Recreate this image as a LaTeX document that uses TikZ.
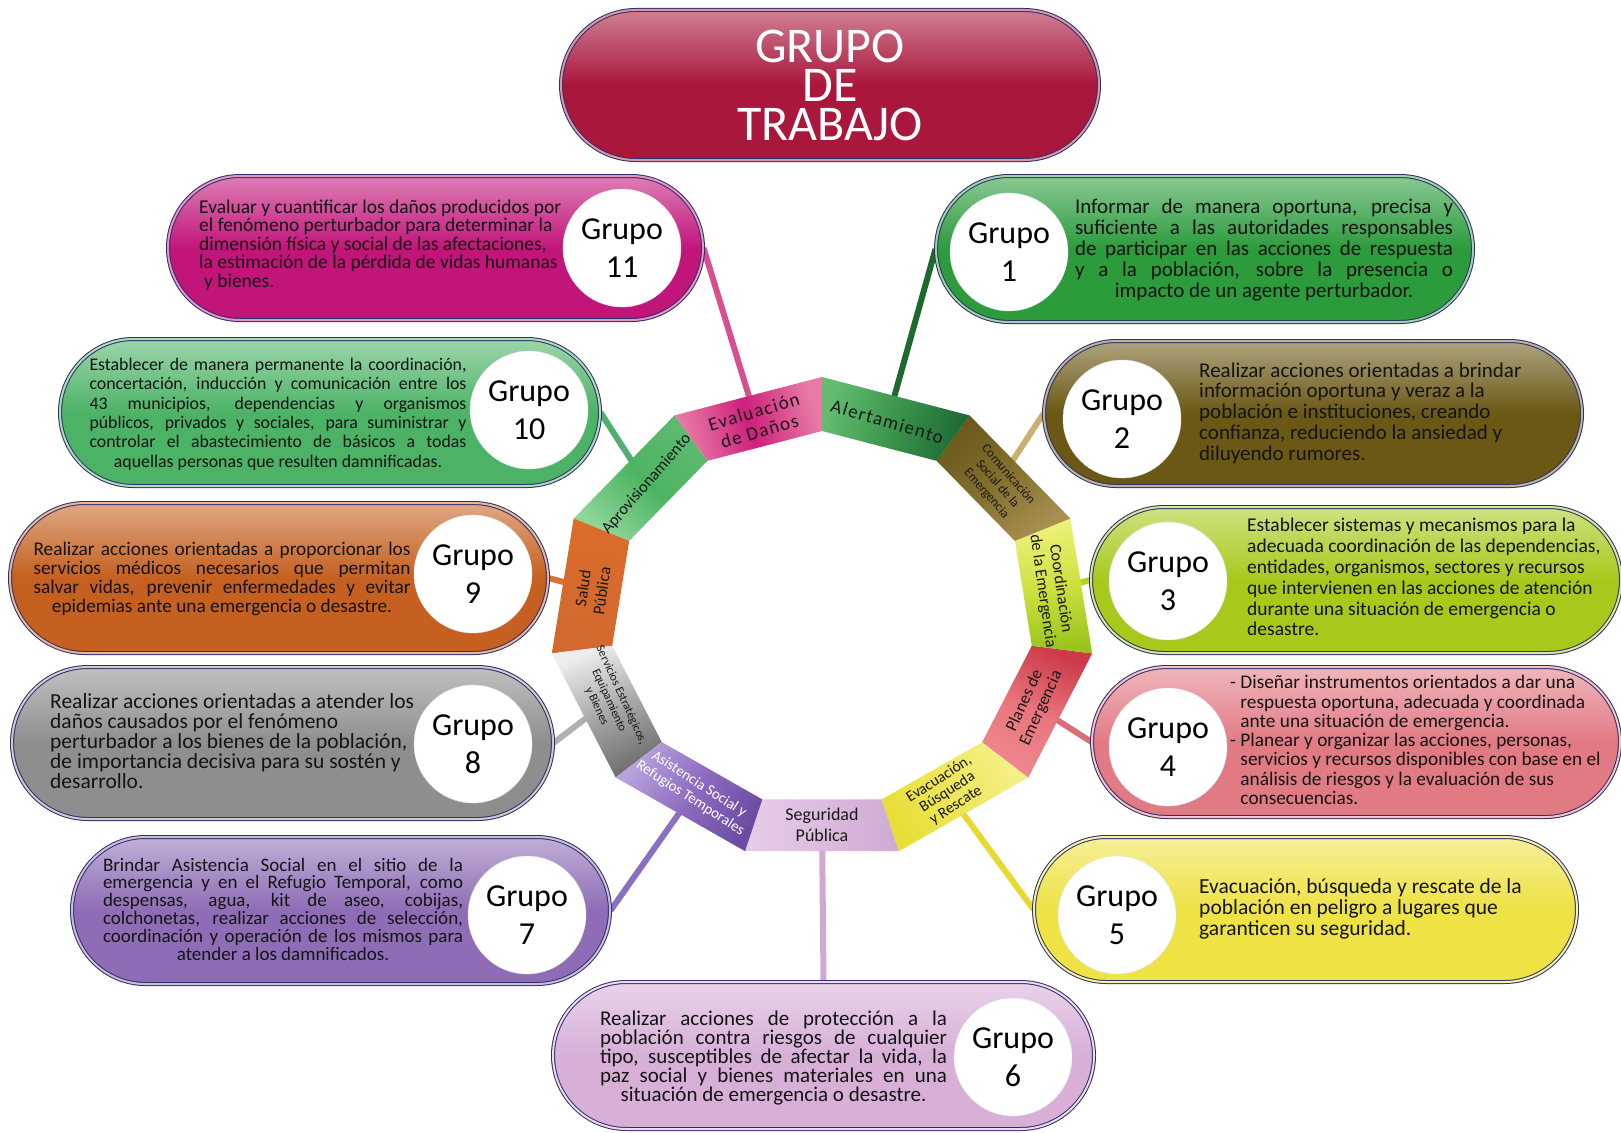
\documentclass[tikz,border=0pt]{standalone}
\usepackage{fontspec}
\setmainfont{Carlito}
\newfontfamily\spacedfont[LetterSpace=7]{Carlito}
\usetikzlibrary{shapes.misc}
\pgfdeclarelayer{back}
\pgfdeclarelayer{bg}
\pgfsetlayers{back,bg,main}
\definecolor{navyline}{HTML}{2E2F6B}
\definecolor{cTitle}{HTML}{A9173C}
\definecolor{cEleven}{HTML}{C2157A}
\definecolor{cOne}{HTML}{2B9B3C}
\definecolor{cTen}{HTML}{4CB366}
\definecolor{cTwo}{HTML}{6B5815}
\definecolor{cNine}{HTML}{C56020}
\definecolor{cThree}{HTML}{A7C91C}
\definecolor{cEight}{HTML}{8E8E8E}
\definecolor{cFour}{HTML}{E27A84}
\definecolor{cSeven}{HTML}{8E6DB6}
\definecolor{cFive}{HTML}{EEE244}
\definecolor{cSix}{HTML}{D7AFD7}
% ring colours
\definecolor{rSegA}{HTML}{E6CDE8}\definecolor{rSegM}{HTML}{DCBCDE}\definecolor{rSegB}{HTML}{CFA9D2}
\definecolor{rEvaA}{HTML}{E8DE38}\definecolor{rEvaM}{HTML}{EEE65A}\definecolor{rEvaB}{HTML}{F5F08A}
\definecolor{rPlaA}{HTML}{F0888E}\definecolor{rPlaM}{HTML}{E8747C}\definecolor{rPlaB}{HTML}{CC3A48}
\definecolor{rCooA}{HTML}{EEF27A}\definecolor{rCooM}{HTML}{CFE040}\definecolor{rCooB}{HTML}{98C41C}
\definecolor{rComA}{HTML}{6B5A1C}\definecolor{rComM}{HTML}{85702E}\definecolor{rComB}{HTML}{A89050}
\definecolor{rAleA}{HTML}{62BC6E}\definecolor{rAleM}{HTML}{3A944C}\definecolor{rAleB}{HTML}{1F6A35}
\definecolor{rDanA}{HTML}{E77BA5}\definecolor{rDanM}{HTML}{CF1F7C}\definecolor{rDanB}{HTML}{E77BA5}
\definecolor{rAprA}{HTML}{8ED598}\definecolor{rAprM}{HTML}{4DB462}\definecolor{rAprB}{HTML}{5DBA6F}
\definecolor{rSalA}{HTML}{D2692E}\definecolor{rSalM}{HTML}{D66A2C}\definecolor{rSalB}{HTML}{DB6C2A}
\definecolor{rSerA}{HTML}{EDEDED}\definecolor{rSerM}{HTML}{A8A8A8}\definecolor{rSerB}{HTML}{6E6E6E}
\definecolor{rAsiA}{HTML}{B9A3DD}\definecolor{rAsiM}{HTML}{8E6DC0}\definecolor{rAsiB}{HTML}{6B4CA3}
% connector colours
\definecolor{kEleven}{HTML}{D84E90}
\definecolor{kOne}{HTML}{1E6A2E}
\definecolor{kTwo}{HTML}{C8B070}
\definecolor{kThree}{HTML}{B8D020}
\definecolor{kFour}{HTML}{D8707A}
\definecolor{kFive}{HTML}{E8D830}
\definecolor{kSix}{HTML}{D0A8D0}
\definecolor{kSeven}{HTML}{8A70C0}
\definecolor{kEight}{HTML}{B0B0B0}
\definecolor{kNine}{HTML}{E07030}
\definecolor{kTen}{HTML}{50B070}
\newcommand\fsz[2]{\fontsize{#1}{#2}\selectfont}
\newcommand\jt{\tolerance=10000\hyphenpenalty=10000\parfillskip=0pt\relax}
\newcommand\ringpart[5]{%
  \shade[shift={(822,-619)}, left color=#2, right color=#4, middle color=#3, shading angle=#5]
    ({#1-16.3636}:273 and 242) -- ({#1+16.3636}:273 and 242) --
    ({#1+16.3636}:212 and 188) -- ({#1-16.3636}:212 and 188) -- cycle;}
\tikzset{
  pill/.style={rounded rectangle, draw=navyline, line width=1pt, double=#1!45!white,
    double distance=2pt, top color=#1!55!white, bottom color=#1, middle color=#1, inner sep=0pt},
  grp/.style={circle, fill=white, draw=black!12, minimum size=118pt, inner sep=0pt,
    align=center, font=\fsz{32}{38}},
  lefttext/.style={anchor=west, align=left, inner sep=0pt, text=black!92},
  justext/.style={align=justify, text width=#1, inner sep=0pt, text=black!92},
  seglab/.style={align=center, inner sep=0pt, text=black!90},
  conn/.style={line width=6pt}
}
\begin{document}
\begin{tikzpicture}[x=1pt,y=1pt]
\useasboundingbox (0,0) rectangle (1621,-1132);
\begin{pgfonlayer}{back}
\fill[white] (0,0) rectangle (1621,-1132);
\end{pgfonlayer}

% ---------------- ring ----------------
\ringpart{270}{rSegA}{rSegM}{rSegB}{90}
\ringpart{302.727}{rEvaA}{rEvaM}{rEvaB}{122.73}
\ringpart{335.455}{rPlaA}{rPlaM}{rPlaB}{155.45}
\ringpart{8.182}{rCooA}{rCooM}{rCooB}{8.18}
\ringpart{40.909}{rComA}{rComM}{rComB}{40.91}
\ringpart{73.636}{rAleA}{rAleM}{rAleB}{73.64}
\ringpart{106.364}{rDanA}{rDanM}{rDanB}{106.36}
\ringpart{139.091}{rAprA}{rAprM}{rAprB}{139.09}
\ringpart{171.818}{rSalA}{rSalM}{rSalB}{171.82}
\ringpart{204.545}{rSerA}{rSerM}{rSerB}{24.55}
\ringpart{237.273}{rAsiA}{rAsiM}{rAsiB}{57.27}

\node[seglab, font=\fsz{18}{21}] (s6) at ({822+232*cos(270)},{-619+206*sin(270)}) {Seguridad\\Pública};
\node[seglab, rotate=32.73, font=\fsz{15.5}{15.5}] (s5) at ({822+232*cos(302.727)},{-619+206*sin(302.727)}) {Evacuación,\\Búsqueda\\y Rescate};
\node[seglab, rotate=65.45, font=\fsz{17}{18}] (s4) at ({822+232*cos(335.455)},{-619+206*sin(335.455)}) {Planes de\\Emergencia};
\node[seglab, rotate=-81.82, font=\fsz{16.5}{18}] (s3) at ({822+232*cos(8.182)},{-619+206*sin(8.182)}) {Coordinación\\de la Emergencia};
\node[seglab, rotate=-49.09, font=\fsz{13}{14.5}] (s2) at ({822+232*cos(40.909)},{-619+206*sin(40.909)}) {Comunicación\\Social de la\\Emergencia};
\node[seglab, rotate=-16.36, font=\spacedfont\fsz{19}{20}] (s1) at ({822+232*cos(73.636)},{-619+206*sin(73.636)}) {Alertamiento};
\node[seglab, rotate=16.36, font=\spacedfont\fsz{19}{20}] (s11) at ({822+232*cos(106.364)},{-619+206*sin(106.364)}) {Evaluación\\de Daños};
\node[seglab, rotate=49.09, font=\fsz{16.5}{18}] (s10) at ({822+232*cos(139.091)},{-619+206*sin(139.091)}) {Aprovisionamiento};
\node[seglab, rotate=81.82, font=\fsz{16.5}{19}] (s9) at ({822+232*cos(171.818)},{-619+206*sin(171.818)}) {Salud\\Pública};
\node[seglab, rotate=-65.45, font=\fsz{12}{13.5}] (s8) at ({822+232*cos(204.545)-2},{-619+206*sin(204.545)+4}) {Servicios Estratégicos,\\Equipamiento\\y Bienes};
\node[seglab, rotate=-32.73, font=\fsz{15}{16.5}, text=white] (s7) at ({822+232*cos(237.273)-2},{-619+206*sin(237.273)+1}) {Asistencia Social y\\Refugios Temporales};

% ---------------- title ----------------
\node[pill=cTitle, minimum width=538pt, minimum height=150pt, text=white, align=center,
      font=\fsz{50}{39}] (title) at (830,-85) {GRUPO\\DE\\TRABAJO};

% ---------------- boxes ----------------
\node[pill=cEleven, minimum width=535pt, minimum height=144pt] (g11) at (435.5,-248) {};
\node[pill=cOne, minimum width=537pt, minimum height=146pt] (g1) at (1204.5,-249) {};
\node[pill=cTen, minimum width=540pt, minimum height=147pt] (g10) at (330,-412.5) {};
\node[pill=cTwo, minimum width=538pt, minimum height=145pt] (g2) at (1313,-413.5) {};
\node[pill=cNine, minimum width=538pt, minimum height=150pt] (g9) at (279,-578) {};
\node[pill=cThree, minimum width=530pt, minimum height=146pt] (g3) at (1356,-580) {};
\node[pill=cEight, minimum width=541pt, minimum height=152pt] (g8) at (282.5,-743) {};
\node[pill=cFour, minimum width=528pt, minimum height=150pt] (g4) at (1356,-742) {};
\node[pill=cSeven, minimum width=538pt, minimum height=147pt] (g7) at (341,-910.5) {};
\node[pill=cFive, minimum width=543pt, minimum height=145pt] (g5) at (1305.5,-909.5) {};
\node[pill=cSix, minimum width=541pt, minimum height=147pt] (g6) at (823.5,-1055.5) {};

\node[grp] (c11) at (622,-248) {Grupo\\11};
\node[grp] (c1) at (1009,-252) {Grupo\\1};
\node[grp] (c10) at (529,-410) {Grupo\\10};
\node[grp] (c2) at (1122,-419) {Grupo\\2};
\node[grp] (c9) at (473,-574) {Grupo\\9};
\node[grp] (c3) at (1168,-581) {Grupo\\3};
\node[grp] (c8) at (473,-744) {Grupo\\8};
\node[grp] (c4) at (1168,-747) {Grupo\\4};
\node[grp] (c7) at (527,-915) {Grupo\\7};
\node[grp] (c5) at (1117,-915) {Grupo\\5};
\node[grp] (c6) at (1013,-1057) {Grupo\\6};

% ---------------- texts ----------------
\node[lefttext, font=\fsz{19.5}{18.6}] (t11) at (199,-245) {Evaluar y cuantificar los daños producidos por\\el fenómeno perturbador para determinar la\\dimensión física y social de las afectaciones,\\la estimación de la pérdida de vidas humanas\\\hspace{0.25em}y bienes.};

\node[justext=378pt, font=\fsz{21}{20.9}] (t1) at (1264,-250) {\jt Informar de manera oportuna, precisa y\linebreak suficiente a las autoridades responsables\linebreak de participar en las acciones de respuesta\linebreak y a la población, sobre la presencia o\par{\centering impacto de un agente perturbador.\par}};

\node[justext=377pt, font=\fsz{17.8}{19.4}] (t10) at (278,-414) {\jt Establecer de manera permanente la coordinación,\linebreak concertación, inducción y comunicación entre los\linebreak 43 municipios, dependencias y organismos\linebreak públicos, privados y sociales, para suministrar y\linebreak controlar el abastecimiento de básicos a todas\par{\centering aquellas personas que resulten damnificadas.\par}};

\node[lefttext, font=\fsz{21}{20.7}] (t2) at (1199,-413) {Realizar acciones orientadas a brindar\\información oportuna y veraz a la\\población e instituciones, creando\\confianza, reduciendo la ansiedad y\\diluyendo rumores.};

\node[justext=377pt, font=\fsz{19.3}{19}] (t9) at (222,-579) {\jt Realizar acciones orientadas a proporcionar los\linebreak servicios médicos necesarios que permitan\linebreak salvar vidas, prevenir enfermedades y evitar\par{\centering epidemias ante una emergencia o desastre.\par}};

\node[lefttext, font=\fsz{19.5}{20.9}] (t3) at (1247,-577) {Establecer sistemas y mecanismos para la\\adecuada coordinación de las dependencias,\\entidades, organismos, sectores y recursos\\que intervienen en las acciones de atención\\durante una situación de emergencia o\\desastre.};

\node[lefttext, font=\fsz{21.5}{20}] (t8) at (50,-741) {Realizar acciones orientadas a atender los\\daños causados por el fenómeno\\perturbador a los bienes de la población,\\de importancia decisiva para su sostén y\\desarrollo.};

\node[lefttext, font=\fsz{19.3}{19.3}] (t4) at (1230,-740) {- Diseñar instrumentos orientados a dar una\\\hphantom{- }respuesta oportuna, adecuada y coordinada\\\hphantom{- }ante una situación de emergencia.\\- Planear y organizar las acciones, personas,\\\hphantom{- }servicios y recursos disponibles con base en el\\\hphantom{- }análisis de riesgos y la evaluación de sus\\\hphantom{- }consecuencias.};

\node[justext=360pt, font=\fsz{19}{17.8}] (t7) at (283,-909) {\jt Brindar Asistencia Social en el sitio de la\linebreak emergencia y en el Refugio Temporal, como\linebreak despensas, agua, kit de aseo, cobijas,\linebreak colchonetas, realizar acciones de selección,\linebreak coordinación y operación de los mismos para\par{\centering atender a los damnificados.\par}};

\node[lefttext, font=\fsz{21.5}{20.7}] (t5) at (1199,-909) {Evacuación, búsqueda y rescate de la\\población en peligro a lugares que\\garanticen su seguridad.};

\node[justext=347pt, font=\fsz{21}{19.2}] (t6) at (773.5,-1058) {\jt Realizar acciones de protección a la\linebreak población contra riesgos de cualquier\linebreak tipo, susceptibles de afectar la vida, la\linebreak paz social y bienes materiales en una\par{\centering situación de emergencia o desastre.\par}};

% ---------------- connectors ----------------
\begin{pgfonlayer}{bg}
\draw[conn, kEleven] (s11) -- (g11.east);
\draw[conn, kOne] (s1) -- (g1.west);
\draw[conn, kTwo] (s2) -- (g2.west);
\draw[conn, kThree] (s3) -- (g3.west);
\draw[conn, kFour] (s4) -- (g4.west);
\draw[conn, kFive] (s5) -- (g5.west);
\draw[conn, kSix] (s6) -- (g6.north);
\draw[conn, kSeven] (s7) -- (g7.east);
\draw[conn, kEight] (s8) -- (g8.east);
\draw[conn, kNine] (s9) -- (g9.east);
\draw[conn, kTen] (s10) -- (g10.east);
\end{pgfonlayer}
\end{tikzpicture}
\end{document}
